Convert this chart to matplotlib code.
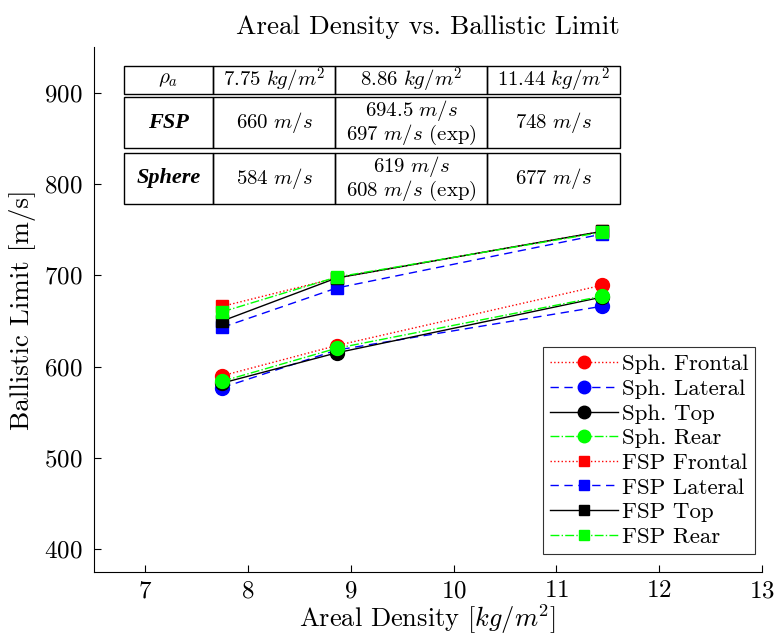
import matplotlib
matplotlib.use('Agg')
import matplotlib.pyplot as plt
from matplotlib.patches import Rectangle

plt.rcParams['font.family'] = 'serif'
plt.rcParams['font.serif'] = ['cmr10', 'DejaVu Serif']
plt.rcParams['mathtext.fontset'] = 'cm'
plt.rcParams['axes.formatter.use_mathtext'] = True

# data
density = [7.75, 8.86, 11.44]
sph_frontal = [590, 623, 689]
sph_lateral = [577, 618, 666]
sph_top = [582, 615, 676]
sph_rear = [584, 620, 677]
fsp_frontal = [666, 697, 748]
fsp_lateral = [643, 686, 745]
fsp_top = [650, 697, 748]
fsp_rear = [660, 698, 747]

green = (0, 1, 0)
series = [
    ('Sph. Frontal', sph_frontal, 'r', ':', 'o', 10),
    ('Sph. Lateral', sph_lateral, 'b', (0, (6, 4)), 'o', 10),
    ('Sph. Top', sph_top, 'k', '-', 'o', 10),
    ('Sph. Rear', sph_rear, green, '-.', 'o', 10),
    ('FSP Frontal', fsp_frontal, 'r', ':', 's', 8),
    ('FSP Lateral', fsp_lateral, 'b', (0, (6, 4)), 's', 8),
    ('FSP Top', fsp_top, 'k', '-', 's', 8),
    ('FSP Rear', fsp_rear, green, '-.', 's', 8),
]

table_header = [r'$\rho_a$', r'$7.75\ kg/m^2$', r'$8.86\ kg/m^2$', r'$11.44\ kg/m^2$']
table_fsp = ['FSP', r'$660\ m/s$', '$694.5\\ m/s$\n$697\\ m/s$ (exp)', r'$748\ m/s$']
table_sphere = ['Sphere', r'$584\ m/s$', '$619\\ m/s$\n$608\\ m/s$ (exp)', r'$677\ m/s$']

fig = plt.figure(figsize=(7.76, 6.4), dpi=100)
ax = fig.add_axes([94 / 776, 1 - 572 / 640, 668 / 776, 525 / 640])

for label, vals, c, ls, mk, ms in series:
    ax.plot(density, vals, color=c, linestyle=ls, marker=mk, markersize=ms,
            linewidth=1, label=label)

ax.set_xlim(6.5, 13)
ax.set_ylim(375, 950)
ax.set_xticks(range(7, 14))
ax.set_yticks(range(400, 901, 100))
ax.tick_params(direction='in', labelsize=18, length=5, pad=8)
ax.tick_params(axis='x', pad=6)
ax.spines['top'].set_visible(False)
ax.spines['right'].set_visible(False)
ax.set_xlabel(r'Areal Density $[kg/m^2]$', fontsize=19, labelpad=0)
ax.set_ylabel('Ballistic Limit [m/s]', fontsize=19.5, labelpad=6)
fig.text(428 / 776, 1 - 27 / 640, 'Areal Density vs. Ballistic Limit',
         fontsize=19.5, ha='center', va='center')

leg = ax.legend(loc='lower right', fontsize=16.5, fancybox=False, edgecolor='k',
                handlelength=3.0, borderpad=0.3, labelspacing=0.2,
                handletextpad=0.15, borderaxespad=0, bbox_to_anchor=(0.99, 0.035))
leg.get_frame().set_linewidth(0.8)
for h in leg.legend_handles:
    if h.get_marker() == 's':
        h.set_markersize(6.5)
    else:
        h.set_markersize(9)

# table drawn in figure pixel coordinates
col_x = [124, 213, 335, 487, 620]
rows = [(66, 94, table_header), (97, 148, table_fsp), (153, 204, table_sphere)]
W, H = 776, 640
for ri, (y0, y1, cells) in enumerate(rows):
    for ci in range(4):
        x0, x1 = col_x[ci], col_x[ci + 1]
        fig.patches.append(Rectangle((x0 / W, 1 - y1 / H), (x1 - x0) / W, (y1 - y0) / H,
                                     transform=fig.transFigure, fill=False,
                                     edgecolor='k', linewidth=1))
        txt = cells[ci]
        kw = dict(ha='center', va='center', fontsize=15, linespacing=1.05)
        if ri > 0 and ci == 0:
            kw.update(family='Liberation Serif', weight='bold', style='italic', fontsize=16)
        fig.text((x0 + x1) / 2 / W, 1 - (y0 + y1) / 2 / H, txt, **kw)

plt.savefig('out.png', dpi=100)
